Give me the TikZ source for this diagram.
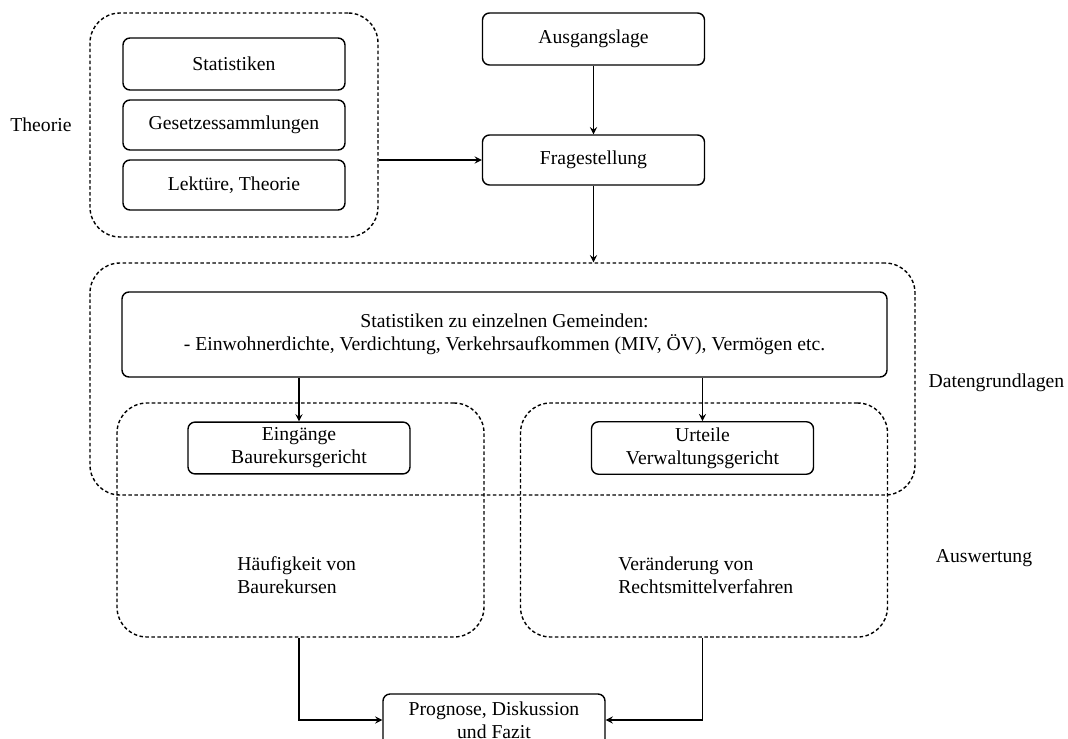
\documentclass[tikz,border=0pt]{standalone}
\usepackage{fontspec}
\setmainfont{Liberation Serif}
\tikzset{
  box/.style={draw, rectangle, rounded corners=4pt, line width=0.8pt, minimum width=4.44cm, minimum height=1cm, align=center},
  group/.style={draw, rectangle, rounded corners=0.6cm, line width=0.8pt, dash pattern=on 2pt off 1.4pt},
}

\begin{document}
\begin{tikzpicture}[font=\fontsize{11.2}{13}\selectfont]
				\useasboundingbox (0,0) rectangle (21.36,-14.78);
				% Theorie
				\node[group, minimum width=5.76cm, minimum height=4.48cm] (TH)at(4.68, -2.5) {};
				\node[anchor=west, inner sep=0pt] (THL)at(0.2, -2.5) {Theorie};
				\node[box, minimum height=1.04cm] (ST1)at(4.68, -1.28) {Statistiken};
				\node[box] (GS)at(4.68, -2.5) {Gesetzessammlungen};
				\node[box] (LT)at(4.68, -3.7) {Lektüre, Theorie};
				\node[box, minimum height=1.04cm] (AL)at(11.87, -0.78) {Ausgangslage};
				\node[box] (FR)at(11.87, -3.2) {Fragestellung};
				% Datengrundlagen
				\node[group, minimum width=16.5cm, minimum height=4.64cm] (DG)at(10.05, -7.58) {};
				\node (DGL)at(19.93, -7.66) {Datengrundlagen};
				\node[box, minimum width=15.3cm, minimum height=1.7cm] (ST)at(10.09, -6.69) {Statistiken zu einzelnen Gemeinden:\\- Einwohnerdichte, Verdichtung, Verkehrsaufkommen (MIV, ÖV), Vermögen etc.};
				% Auswertung
				\node[group, minimum width=7.34cm, minimum height=4.68cm] (AWL)at(6.01, -10.4) {};
				\node[group, minimum width=7.34cm, minimum height=4.68cm] (AWR)at(14.08, -10.4) {};
				\node (AWT)at(19.68, -11.16) {Auswertung};
				\node[box] (EB)at(5.98, -8.96) {Eingänge\\Baurekursgericht};
				\node[box] (UV)at(14.05, -8.96) {Urteile\\Verwaltungsgericht};
				\node[anchor=west, align=left, inner sep=0pt] (HB)at(4.74, -11.5) {Häufigkeit von\\Baurekursen};
				\node[anchor=west, align=left, inner sep=0pt] (VR)at(12.36, -11.5) {Veränderung von\\Rechtsmittelverfahren};
				\node[box, minimum height=1.04cm] (PR)at(9.88, -14.4) {Prognose, Diskussion\\und Fazit};
				% Pfeile
				\draw[->, >=stealth, line width=0.8pt] (AL) -- (FR);
				\draw[->, >=stealth, line width=0.8pt] (TH.east |- FR) -- (FR);
				\draw[->, >=stealth, line width=0.8pt] (FR) -- (FR |- DG.north);
				\draw[->, >=stealth, line width=0.8pt] (ST.south -| EB) -- (EB);
				\draw[->, >=stealth, line width=0.8pt] (ST.south -| UV) -- (UV);
				\draw[->, >=stealth, line width=0.8pt] (AWL.south -| EB) |- (PR);
				\draw[->, >=stealth, line width=0.8pt] (AWR.south -| UV) |- (PR);
			\end{tikzpicture}
\end{document}
